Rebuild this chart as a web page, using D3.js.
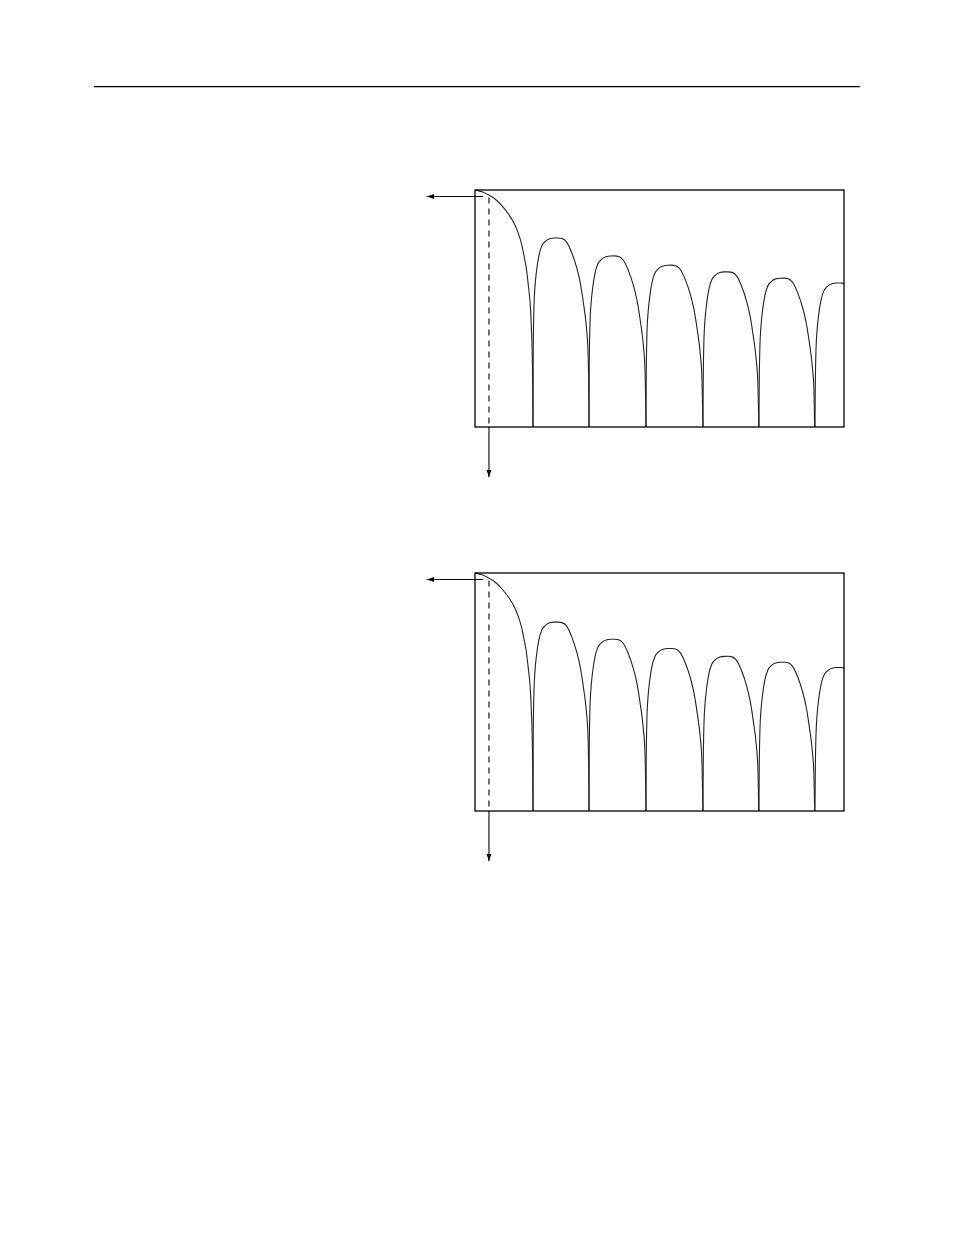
<!DOCTYPE html>
<html>
<head>
<meta charset="utf-8">
<script src="https://cdn.jsdelivr.net/npm/d3@7"></script>
<style>
  html, body { margin: 0; padding: 0; background: #fff; }
  svg { display: block; }
</style>
</head>
<body>
<svg id="page" width="954" height="1235"></svg>
<script>
// Frequency axis in null units (nulls near integers), level axis in dB
const xDomain = [0, 6.5];
const yDomain = [-64, 0];

// Main lobe: [frequency, dB]
const mainLobe = [
  [0, 0], [0.035, -0.1], [0.123, -0.5], [0.241, -1.35], [0.358, -2.5],
  [0.476, -4.3], [0.594, -6.6], [0.682, -8.8], [0.770, -12.0], [0.828, -15.1],
  [0.875, -18.7], [0.898, -20.5], [0.939, -25.7], [0.969, -30.2],
  [0.995, -37.8], [1.013, -48.6], [1.022, -64]
];

// Null positions between the side lobes
const nulls = [1.022, 2.008, 3.012, 4.016, 5.002, 5.989, 6.985];

// Side lobe peak levels (dB), one per lobe, top and bottom panel
const peaksTop = [-12.96, -17.8, -20.3, -22.1, -23.8, -25.1];
const peaksBottom = [-13.2, -17.8, -20.3, -22.4, -24.0, -25.4];

// Shape of a side lobe: [fraction across lobe, dB below its peak]
const lobeShape = [
  [0, 64], [0.004, 30], [0.018, 18], [0.036, 13], [0.066, 8.5],
  [0.107, 4.6], [0.155, 2.2], [0.214, 1.0], [0.30, 0.2], [0.38, 0.02],
  [0.45, 0], [0.52, 0.15], [0.60, 1.1], [0.69, 3.9], [0.78, 8.0],
  [0.84, 11.8], [0.90, 17.5], [0.953, 24], [0.982, 30.5], [0.995, 40], [1, 64]
];

// Marker positions (frequency of the dashed cut, level of the horizontal arrow)
const cutFreq = 0.246;
const cutLevel = -1.75;

const panels = [
  { id: "top", top: 190, bottom: 427, peaks: peaksTop },
  { id: "bottom", top: 573, bottom: 811, peaks: peaksBottom }
];

const svg = d3.select("#page");
svg.append("rect").attr("width", 954).attr("height", 1235).attr("fill", "#fff");

// Page rule
svg.append("line")
  .attr("x1", 94).attr("x2", 860)
  .attr("y1", 86.7).attr("y2", 86.7)
  .attr("stroke", "#000").attr("stroke-width", 1.3);

const defs = svg.append("defs");
defs.append("marker")
  .attr("id", "arrow")
  .attr("viewBox", "0 0 10 10")
  .attr("refX", 10).attr("refY", 5)
  .attr("markerWidth", 7).attr("markerHeight", 7)
  .attr("markerUnits", "userSpaceOnUse")
  .attr("orient", "auto")
  .append("path")
  .attr("d", "M0,1.5 L10,5 L0,8.5 Z")
  .attr("fill", "#000");

const left = 475, right = 844;

panels.forEach(p => {
  const x = d3.scaleLinear().domain(xDomain).range([left, right]);
  const y = d3.scaleLinear().domain(yDomain).range([p.bottom, p.top]);

  defs.append("clipPath").attr("id", "clip-" + p.id)
    .append("rect")
    .attr("x", left).attr("y", p.top - 1)
    .attr("width", right - left).attr("height", p.bottom - p.top + 1);

  const line = d3.line()
    .x(d => x(d[0]))
    .y(d => y(Math.max(yDomain[0], d[1])))
    .curve(d3.curveMonotoneX);

  // Build the lobes
  const lobes = [mainLobe];
  p.peaks.forEach((pk, i) => {
    const l = nulls[i], r = nulls[i + 1];
    lobes.push(lobeShape.map(([f, drop]) => [l + f * (r - l), pk - drop]));
  });

  const g = svg.append("g").attr("clip-path", `url(#clip-${p.id})`);
  g.selectAll("path.lobe")
    .data(lobes)
    .enter()
    .append("path")
    .attr("class", "lobe")
    .attr("d", line)
    .attr("fill", "none")
    .attr("stroke", "#222")
    .attr("stroke-width", 1.1);

  // Frame
  svg.append("rect")
    .attr("x", left).attr("y", p.top)
    .attr("width", right - left).attr("height", p.bottom - p.top)
    .attr("fill", "none")
    .attr("stroke", "#000").attr("stroke-width", 1.3);

  // Dashed cut at the marker frequency
  svg.append("line")
    .attr("x1", x(cutFreq)).attr("x2", x(cutFreq))
    .attr("y1", y(cutLevel) + 1).attr("y2", p.bottom)
    .attr("stroke", "#000").attr("stroke-width", 1.1)
    .attr("stroke-dasharray", "6,5");

  // Downward arrow below the frame
  svg.append("line")
    .attr("x1", x(cutFreq)).attr("x2", x(cutFreq))
    .attr("y1", p.bottom).attr("y2", p.bottom + 50)
    .attr("stroke", "#000").attr("stroke-width", 1.1)
    .attr("marker-end", "url(#arrow)");

  // Leftward arrow at the marker level
  svg.append("line")
    .attr("x1", x(cutFreq) - 6).attr("x2", left - 48)
    .attr("y1", y(cutLevel)).attr("y2", y(cutLevel))
    .attr("stroke", "#000").attr("stroke-width", 1.1)
    .attr("marker-end", "url(#arrow)");
});
</script>
</body>
</html>
